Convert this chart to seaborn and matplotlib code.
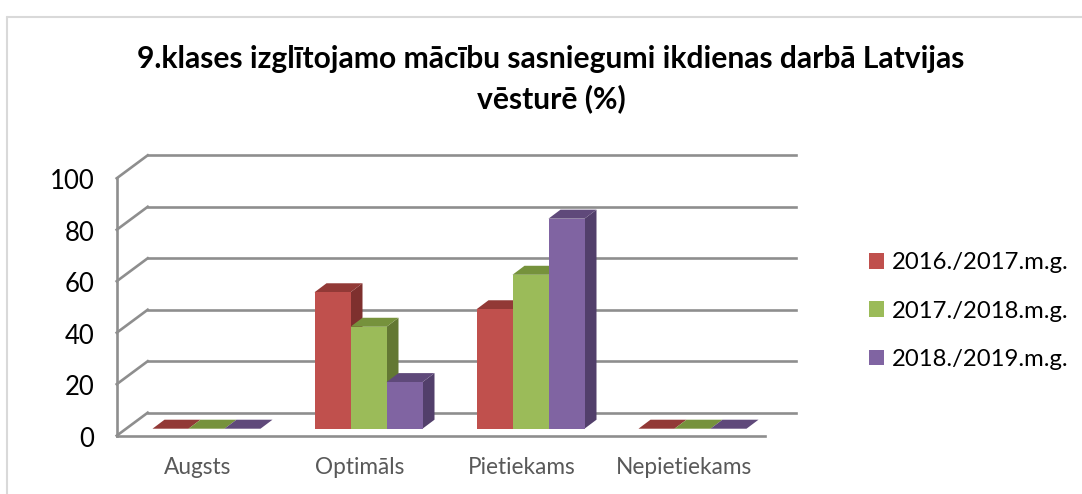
import matplotlib
matplotlib.use("Agg")
import matplotlib.pyplot as plt
import seaborn as sns
import pandas as pd
from matplotlib.lines import Line2D
from matplotlib.patches import Polygon
from matplotlib.transforms import ScaledTranslation

categories = ["Augsts", "Optimāls", "Pietiekams", "Nepietiekams"]
series_names = ["2016./2017.m.g.", "2017./2018.m.g.", "2018./2019.m.g."]
values_2016 = [0, 53.0, 46.4, 0]
values_2017 = [0, 39.6, 59.8, 0]
values_2018 = [0, 18.1, 81.6, 0]
y_ticks = [0, 20, 40, 60, 80, 100]
title = "9.klases izglītojamo mācību sasniegumi ikdienas darbā Latvijas\nvēsturē (%)"

front_colors = ["#C0504D", "#9BBB59", "#8064A2"]
top_colors = ["#923936", "#76923C", "#5F497A"]
side_colors = ["#7E302E", "#637833", "#523F6B"]
GRID = "#8E8E8E"

W, H = 1082, 494
sns.set_theme(style="white")
plt.rcParams["font.family"] = ["Lato", "DejaVu Sans"]

fig = plt.figure(figsize=(W / 100, H / 100), dpi=100, facecolor="white")
# Axes = plane in which the bars stand
L, R, B, T = 125.5, 773.5, 428.7, 171.3
ax = fig.add_axes([L / W, 1 - B / H, (R - L) / W, (B - T) / H])

df = pd.DataFrame({
    "cat": categories * 3,
    "series": [s for s in series_names for _ in categories],
    "value": values_2016 + values_2017 + values_2018,
})
sns.barplot(data=df, x="cat", y="value", hue="series", hue_order=series_names,
            order=categories, palette=front_colors, width=2 / 3, gap=0,
            saturation=1, ax=ax, linewidth=0, legend=True)
ax.set_xlim(-0.5, 3.5)
ax.set_ylim(0, 100)
ax.set_xlabel("")
ax.set_ylabel("")
ax.set_yticks(y_ticks)
ax.set_facecolor("none")
for s in ax.spines.values():
    s.set_visible(False)
ax.grid(False)

# pixel -> data scale
px_x = 4 / (R - L)
px_y = 100 / (B - T)

# depth of the bars
dx, dy = 12 * px_x, 9 * px_y
for i, cont in enumerate(ax.containers):
    z = 3 + i * 2
    for bar in cont:
        x0, w, h = bar.get_x(), bar.get_width(), bar.get_height()
        x1 = x0 + w
        ax.add_patch(Polygon([(x1, 0), (x1 + dx, dy), (x1 + dx, h + dy), (x1, h)],
                             closed=True, fc=side_colors[i], ec="none", zorder=z, clip_on=False))
        ax.add_patch(Polygon([(x0, h), (x0 + dx, h + dy), (x1 + dx, h + dy), (x1, h)],
                             closed=True, fc=top_colors[i], ec="none", zorder=z, clip_on=False))
        bar.set_zorder(z + 1)

# wall and floor, relative to the bar plane
fx, fy = -8.8 * px_x, -7 * px_y      # front plane
bx, by = 22.2 * px_x, 16 * px_y      # back wall
xl, xr = ax.get_xlim()
lk = dict(color=GRID, lw=1.9, zorder=1, clip_on=False, solid_capstyle="projecting")
for t in y_ticks:
    ax.plot([xl + fx, xl + bx], [t + fy, t + by], **lk)
    ax.plot([xl + bx, xr + bx], [t + by, t + by], **lk)
ax.plot([xl + fx, xl + fx], [fy, 100 + fy], **lk)
ax.plot([xl + fx, xr + fx], [fy, fy], **lk)

# tick labels sit on the front plane
ax.tick_params(axis="both", length=0)
ax.tick_params(axis="y", labelsize=18.5, labelcolor="black", pad=22.5)
ax.tick_params(axis="x", labelsize=16.3, labelcolor="#595959", pad=20.7)
y_shift = ScaledTranslation(0, -7.8 / 100, fig.dpi_scale_trans)
x_shift = ScaledTranslation(-8.8 / 100, 0, fig.dpi_scale_trans)
for lab in ax.get_yticklabels():
    lab.set_transform(lab.get_transform() + y_shift)
for lab in ax.get_xticklabels():
    lab.set_transform(lab.get_transform() + x_shift)

# title
fig.text(551 / W, 1 - 79 / H, title, ha="center", va="center", fontsize=21.6,
         fontweight="bold", color="black", linespacing=1.5)

# legend
handles, labels = ax.get_legend_handles_labels()
fs = 17.2
ax.legend(handles, labels, loc="center left", bbox_to_anchor=(869 / W, 1 - 311 / H),
          bbox_transform=fig.transFigure, frameon=False, fontsize=fs, borderpad=0,
          borderaxespad=0, handlelength=10.8 / fs, handleheight=10.8 / fs,
          handletextpad=0.335, labelspacing=1.14, labelcolor="black")

# outer frame of the chart
frame = dict(color="#D9D9D9", lw=1.5, transform=fig.transFigure)
fig.add_artist(Line2D([7 / W, 7 / W], [1 - 17 / H, 0], **frame))
fig.add_artist(Line2D([7 / W, 1], [1 - 17 / H, 1 - 17 / H], **frame))

fig.savefig("out.png", dpi=100, facecolor="white")
